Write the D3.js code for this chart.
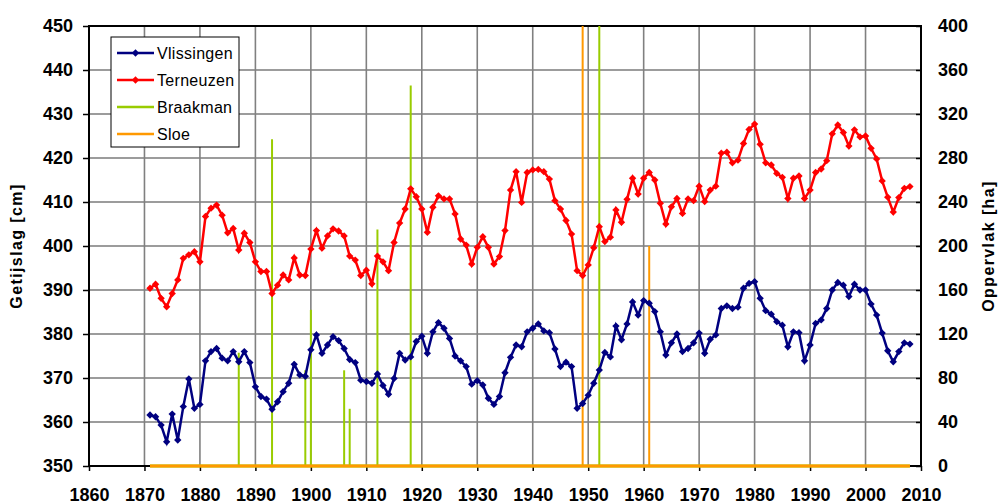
<!DOCTYPE html>
<html>
<head>
<meta charset="utf-8">
<script src="https://cdn.jsdelivr.net/npm/d3@7"></script>
<style>
  body { margin: 0; background: #fff; }
  svg text { font-family: Arial, "Liberation Sans", sans-serif; }
</style>
</head>
<body>
<div id="mainchart"></div>
<script>
// years 1871 - 2008, one value per year
var firstYear = 1871;

var vlissingen = [
  361.6, 361.2, 359.3, 355.5, 361.8, 355.9, 363.5, 369.8, 363.1, 364.0,
  373.9, 376.0, 376.7, 374.5, 373.9, 376.0, 373.7, 376.0, 373.5, 368.0,
  365.8, 365.2, 362.9, 364.6, 366.9, 368.8, 373.1, 370.7, 370.4, 376.4,
  379.8, 375.6, 377.5, 379.4, 378.5, 376.7, 374.2, 373.5, 369.5, 369.2,
  368.8, 370.9, 368.3, 366.3, 369.9, 375.6, 374.1, 374.8, 378.3, 379.5,
  375.6, 380.5, 382.6, 381.3, 379.0, 375.0, 373.9, 372.6, 368.6, 369.4,
  368.4, 365.4, 364.0, 365.8, 371.2, 374.7, 377.5, 377.1, 380.5, 381.3,
  382.3, 380.7, 380.3, 376.6, 372.6, 373.6, 372.6, 363.1, 364.2, 366.1,
  368.8, 371.8, 375.8, 374.8, 381.8, 378.7, 382.3, 387.3, 384.3, 387.6,
  387.0, 385.1, 380.5, 375.2, 378.0, 380.0, 376.0, 376.7, 378.0, 380.2,
  375.6, 378.8, 379.8, 385.8, 386.4, 385.8, 386.1, 390.4, 391.5, 391.9,
  388.1, 385.3, 384.5, 382.8, 382.0, 377.1, 380.5, 380.3, 373.9, 377.5,
  382.4, 383.2, 385.8, 390.0, 391.7, 391.1, 388.5, 391.3, 390.0, 390.0,
  386.8, 384.3, 380.2, 376.2, 373.7, 376.0, 378.0, 377.7
];

var terneuzen = [
  390.4, 391.3, 388.1, 386.2, 389.2, 392.3, 397.2, 398.0, 398.7, 396.4,
  406.7, 408.6, 409.3, 407.0, 403.0, 404.0, 399.1, 402.9, 400.8, 396.4,
  394.2, 394.2, 389.2, 391.1, 393.4, 392.3, 397.3, 393.4, 393.3, 399.3,
  403.5, 399.5, 402.3, 403.9, 403.4, 402.3, 397.7, 396.8, 393.3, 394.5,
  391.4, 397.7, 396.4, 394.4, 400.8, 405.2, 408.4, 413.0, 411.2, 408.4,
  403.1, 408.8, 411.4, 410.7, 410.7, 407.3, 401.6, 400.2, 395.9, 399.7,
  402.1, 399.7, 395.9, 397.6, 403.5, 412.7, 416.9, 409.9, 416.7, 417.3,
  417.4, 416.9, 415.2, 410.3, 408.4, 405.8, 402.7, 394.4, 393.3, 395.7,
  399.6, 404.4, 401.0, 402.0, 408.2, 405.4, 410.6, 415.4, 411.8, 415.4,
  416.7, 415.0, 409.7, 405.0, 408.9, 410.8, 407.4, 410.7, 410.3, 413.6,
  410.1, 412.7, 413.6, 421.1, 421.3, 418.9, 419.5, 423.3, 426.5, 427.7,
  423.1, 418.9, 418.4, 416.5, 415.6, 410.8, 415.4, 415.9, 410.8, 412.7,
  416.7, 417.5, 419.4, 425.5, 427.5, 425.8, 422.7, 426.4, 424.8, 425.0,
  422.2, 419.8, 414.8, 411.1, 407.7, 411.0, 413.1, 413.5
];

// reclaimed area [ha], only years with a non-zero value
var braakmanYears = [1887, 1893, 1899, 1900, 1906, 1907, 1912, 1918, 1952];
var braakmanHa    = [103, 297, 87, 142, 87, 52, 215, 346, 400];
var sloeYears = [1949, 1961];
var sloeHa    = [400, 200];

var xTicks = [1860, 1870, 1880, 1890, 1900, 1910, 1920, 1930, 1940, 1950, 1960, 1970, 1980, 1990, 2000, 2010];
var leftTicks = [350, 360, 370, 380, 390, 400, 410, 420, 430, 440, 450];
var rightTicks = [0, 40, 80, 120, 160, 200, 240, 280, 320, 360, 400];

var seriesNames = ['Vlissingen', 'Terneuzen', 'Braakman', 'Sloe'];
var colors = {Vlissingen: '#000080', Terneuzen: '#FF0000', Braakman: '#99CC00', Sloe: '#FF9900'};

drawChart();

function drawChart() {
  var W = 1000, H = 504;
  var left = 89, right = 921, top = 26, bottom = 466;

  var svg = d3.select('#mainchart').append('svg')
    .attr('width', W).attr('height', H);

  var x = d3.scaleLinear().domain([1860, 2010]).range([left, right]);
  var yL = d3.scaleLinear().domain([350, 450]).range([bottom, top]);
  var yR = d3.scaleLinear().domain([0, 400]).range([bottom, top]);

  var years = d3.range(firstYear, firstYear + vlissingen.length);

  svg.append('defs').append('clipPath').attr('id', 'plotclip')
    .append('rect').attr('x', left).attr('y', top)
    .attr('width', right - left).attr('height', bottom - top + 2);

  // grid
  svg.append('g').selectAll('line.h').data(leftTicks.slice(1, -1)).enter()
    .append('line')
    .attr('x1', left).attr('x2', right)
    .attr('y1', d => yL(d)).attr('y2', d => yL(d))
    .attr('stroke', '#3a3a3a').attr('stroke-width', 1.2);

  svg.append('g').selectAll('line.v').data(xTicks.slice(1, -1)).enter()
    .append('line')
    .attr('y1', top).attr('y2', bottom)
    .attr('x1', d => x(d)).attr('x2', d => x(d))
    .attr('stroke', '#808080').attr('stroke-width', 1.6);

  // axes
  var axL = svg.append('g').attr('transform', 'translate(' + left + ',0)')
    .call(d3.axisLeft(yL).tickValues(leftTicks).tickSize(6).tickPadding(10));
  var axR = svg.append('g').attr('transform', 'translate(' + right + ',0)')
    .call(d3.axisRight(yR).tickValues(rightTicks).tickSize(-5).tickPadding(17));
  var axB = svg.append('g').attr('transform', 'translate(0,' + bottom + ')')
    .call(d3.axisBottom(x).tickValues(xTicks).tickFormat(d3.format('d')).tickSize(5).tickPadding(17));

  [axL, axR, axB].forEach(function(a) {
    a.select('.domain').remove();
    a.selectAll('line').attr('stroke', '#000').attr('stroke-width', 1.5);
    a.selectAll('text').attr('font-size', '18px').attr('font-weight', 'bold')
      .attr('fill', '#000');
  });
  axB.selectAll('text')
    .attr('font-family', '"Liberation Sans Narrow", "Arial Narrow", Arial, sans-serif')
    .attr('font-size', '18px');

  // frame
  svg.append('rect').attr('x', left).attr('y', top)
    .attr('width', right - left).attr('height', bottom - top)
    .attr('fill', 'none').attr('stroke', '#000').attr('stroke-width', 2);

  var plot = svg.append('g').attr('clip-path', 'url(#plotclip)');

  // area series: zero baseline plus a spike for each year with reclamation
  function drawArea(name, yrs, vals) {
    svg.append('line')
      .attr('x1', x(years[0])).attr('x2', x(years[years.length - 1]))
      .attr('y1', yR(0)).attr('y2', yR(0))
      .attr('stroke', colors[name]).attr('stroke-width', 3);
    plot.selectAll('line.' + name).data(yrs).enter().append('line')
      .attr('class', name)
      .attr('x1', d => x(d)).attr('x2', d => x(d))
      .attr('y1', yR(0)).attr('y2', (d, i) => yR(vals[i]))
      .attr('stroke', colors[name]).attr('stroke-width', 2);
  }
  drawArea('Braakman', braakmanYears, braakmanHa);
  drawArea('Sloe', sloeYears, sloeHa);

  var diamond = d3.symbol().type(d3.symbolSquare).size(27);

  function drawLine(name, vals) {
    var line = d3.line().x((d, i) => x(years[i])).y(d => yL(d));
    plot.append('path').datum(vals)
      .attr('d', line).attr('fill', 'none')
      .attr('stroke', colors[name]).attr('stroke-width', 2.5);
    plot.selectAll('path.' + name).data(vals).enter().append('path')
      .attr('class', name)
      .attr('d', diamond)
      .attr('transform', (d, i) => 'translate(' + x(years[i]) + ',' + yL(d) + ') rotate(45)')
      .attr('fill', colors[name]);
  }
  drawLine('Vlissingen', vlissingen);
  drawLine('Terneuzen', terneuzen);

  // axis titles
  svg.append('text').attr('transform', 'translate(22,' + ((top + bottom) / 2) + ') rotate(-90)')
    .attr('text-anchor', 'middle').attr('font-size', '16px').attr('font-weight', 'bold')
    .attr('letter-spacing', '1.4px')
    .text('Getijslag [cm]');
  svg.append('text').attr('transform', 'translate(994,' + ((top + bottom) / 2) + ') rotate(-90)')
    .attr('text-anchor', 'middle').attr('font-size', '16px').attr('font-weight', 'bold')
    .attr('letter-spacing', '1.4px')
    .text('Oppervlak [ha]');

  // legend
  var lg = svg.append('g');
  lg.append('rect').attr('x', 111).attr('y', 37).attr('width', 128).attr('height', 110)
    .attr('fill', '#fff').attr('stroke', '#000').attr('stroke-width', 1);
  var items = lg.selectAll('g.item').data(seriesNames).enter().append('g')
    .attr('transform', (d, i) => 'translate(0,' + (53 + i * 27) + ')');
  items.append('line').attr('x1', 117).attr('x2', 154).attr('y1', 0).attr('y2', 0)
    .attr('stroke', d => colors[d]).attr('stroke-width', 2.5);
  items.filter((d, i) => i < 2).append('path')
    .attr('d', diamond)
    .attr('transform', 'translate(135.5,0) rotate(45)')
    .attr('fill', d => colors[d]);
  items.append('text').attr('x', 157).attr('y', 5.5)
    .attr('font-size', '16px').attr('letter-spacing', '0.3px')
    .text(d => d);
}
</script>
</body>
</html>
